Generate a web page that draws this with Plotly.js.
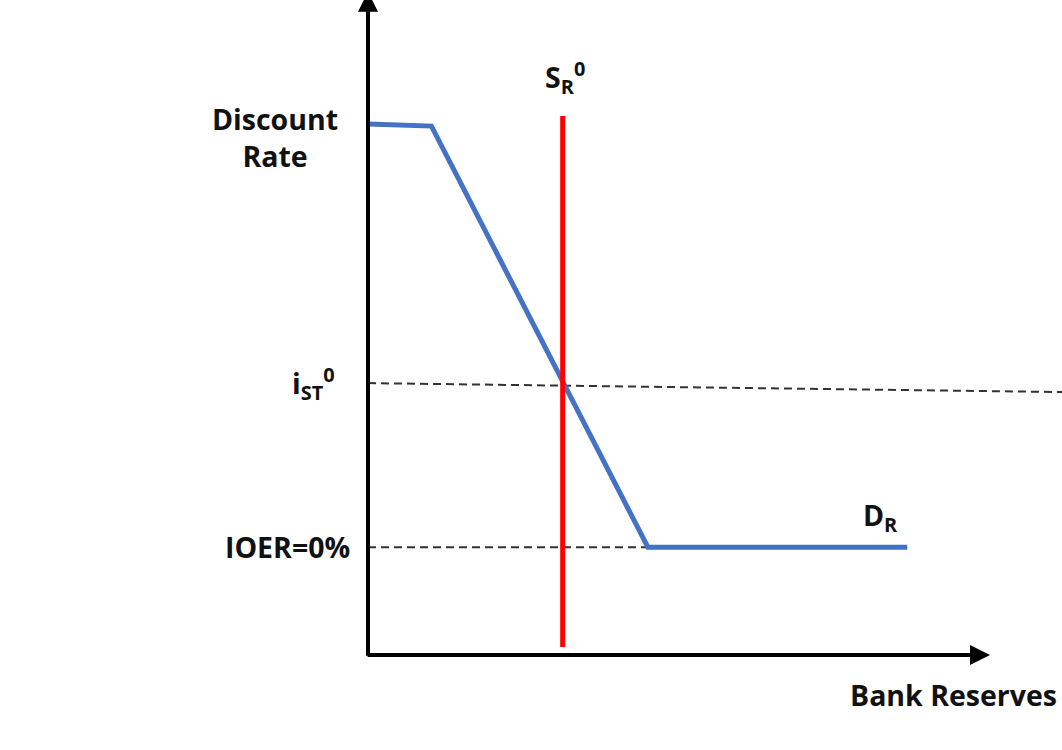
<!DOCTYPE html>
<html><head><meta charset="utf-8">
<script src="https://cdn.plot.ly/plotly-3.0.1.min.js"></script>
<style>html,body{margin:0;padding:0;background:#fff;}#chart{width:1062px;height:750px;}</style>
</head><body><div id="chart"></div>
<script>
// Demand for reserves (D_R)
const demandX = [0, 1.02, 4.5, 8.67];
const demandY = [10.0, 9.96, 2.03, 2.03];
// Supply of reserves (S_R^0)
const supplyX = [3.13, 3.13];
const supplyY = [10.15, 0.15];
// Dashed reference levels
const istX = [0, 11.3];
const istY = [5.12, 4.95];
const ioerX = [0, 4.5];
const ioerY = [2.03, 2.03];
// Axis extents
const axisXEnd = 10;
const axisYEnd = 12.49;
// Labels
const labelDiscount = 'Discount<br>Rate';
const labelIst = 'i<sub>ST</sub><sup>0</sup>';
const labelIoer = 'IOER=0%';
const labelSupply = 'S<sub>R</sub><sup>0</sup>';
const labelDemand = 'D<sub>R</sub>';
const labelXAxis = 'Bank Reserves';

const F = {family:'"Open Sans", Lato, sans-serif', size:28.5, color:'#111', weight:700};
const dashStyle = {color:'#333333', width:2, dash:'8px,5px'};

const traces = [
  {x:istX, y:istY, mode:'lines', line:dashStyle, hoverinfo:'skip'},
  {x:ioerX, y:ioerY, mode:'lines', line:dashStyle, hoverinfo:'skip'},
  {x:demandX, y:demandY, mode:'lines', line:{color:'#4472C4', width:5}, hoverinfo:'skip'},
  {x:supplyX, y:supplyY, mode:'lines', line:{color:'#FF0000', width:5}, hoverinfo:'skip'}
];

const ann = [
  {x:axisXEnd, y:0, ax:-0.03, ay:0, xref:'x', yref:'y', axref:'x', ayref:'y', text:'', showarrow:true, arrowhead:2, arrowsize:1, arrowwidth:4, arrowcolor:'#000'},
  {x:0, y:axisYEnd, ax:0, ay:-0.04, xref:'x', yref:'y', axref:'x', ayref:'y', text:'', showarrow:true, arrowhead:2, arrowsize:1, arrowwidth:4, arrowcolor:'#000'},
  {x:-1.49, y:9.755, xref:'x', yref:'y', text:labelDiscount, showarrow:false, font:F, xanchor:'center', yanchor:'middle'},
  {x:-0.5, y:5.12, xref:'x', yref:'y', text:labelIst, showarrow:false, font:F, xanchor:'right', yanchor:'middle'},
  {x:-0.25, y:2.03, xref:'x', yref:'y', text:labelIoer, showarrow:false, font:F, xanchor:'right', yanchor:'middle'},
  {x:3.17, y:10.87, xref:'x', yref:'y', text:labelSupply, showarrow:false, font:F, xanchor:'center', yanchor:'middle'},
  {x:7.93, y:2.6, xref:'x', yref:'y', text:labelDemand, showarrow:false, font:F, xanchor:'left', yanchor:'middle'},
  {x:9.41, y:-0.753, xref:'x', yref:'y', text:labelXAxis, showarrow:false, font:F, xanchor:'center', yanchor:'middle'}
];

const layout = {
  width:1062, height:750,
  margin:{l:0, r:0, t:0, b:0},
  paper_bgcolor:'#fff', plot_bgcolor:'#fff',
  showlegend:false,
  xaxis:{range:[-5.9164, 11.1576], visible:false, fixedrange:true},
  yaxis:{range:[-1.789, 12.335], visible:false, fixedrange:true},
  annotations:ann
};
Plotly.newPlot('chart', traces, layout, {staticPlot:true, displayModeBar:false});
</script>
</body></html>
